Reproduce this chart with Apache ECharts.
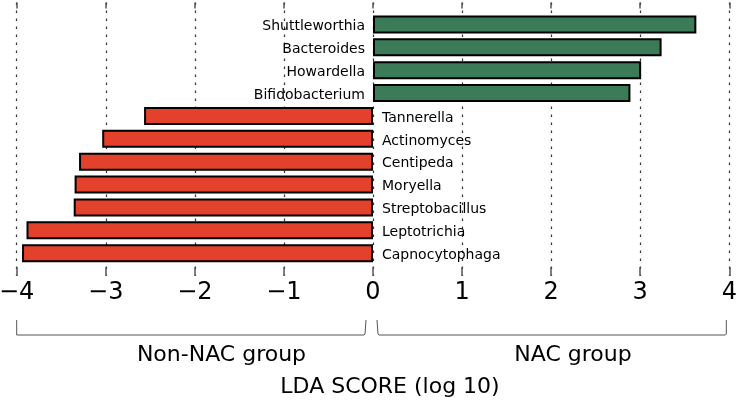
<!DOCTYPE html>
<html>
<head>
<meta charset="utf-8">
<script src="https://cdn.jsdelivr.net/npm/echarts@6/dist/echarts.min.js"></script>
<style>
html,body{margin:0;padding:0;background:#fff;}
#chart{width:738px;height:404px;}
</style>
</head>
<body>
<div id="chart"></div>
<script>
const genera = ['Shuttleworthia','Bacteroides','Howardella','Bifidobacterium','Tannerella','Actinomyces','Centipeda','Moryella','Streptobacillus','Leptotrichia','Capnocytophaga'];
const ldaScores = [3.63, 3.24, 3.01, 2.89, -2.57, -3.04, -3.30, -3.35, -3.36, -3.89, -3.94];
const groupNames = ['Non-NAC group', 'NAC group'];
const xTicks = [-4, -3, -2, -1, 0, 1, 2, 3, 4];
const axisTitle = 'LDA SCORE (log 10)';

const FONT = 'DejaVu Sans';
const nacColor = '#3b7b57';
const nonNacColor = '#e3412b';

const chart = echarts.init(document.getElementById('chart'), null, {renderer: 'canvas'});

const gridLeft = 16.7, gridRight = 8.7;

const nacData = ldaScores.map(v => v > 0 ? v : '-');
const nonNacData = ldaScores.map(v => v < 0 ? v : '-');

const option = {
  backgroundColor: '#fff',
  animation: false,
  grid: [
    {left: gridLeft, right: gridRight, top: 13.06, height: 251.6, containLabel: false, outerBoundsMode: 'none'},
    {left: gridLeft, right: gridRight, top: 2.5, height: 273.5, containLabel: false, outerBoundsMode: 'none'}
  ],
  xAxis: [
    {gridIndex: 0, type: 'value', min: xTicks[0], max: xTicks[xTicks.length-1], show: false},
    {gridIndex: 1, type: 'value', position: 'bottom', min: xTicks[0], max: xTicks[xTicks.length-1], interval: 1,
      axisLine: {show: false},
      axisTick: {show: true, inside: true, length: 9, lineStyle: {color: '#555', width: 1.5}},
      axisLabel: {show: true, margin: 5, fontFamily: FONT, fontSize: 24, color: '#000',
        formatter: v => (v < 0 ? '\u2212' + Math.abs(v) : String(v))},
      splitLine: {show: true, lineStyle: {color: '#333', width: 1.2, type: [2.5, 5.5]}},
      name: axisTitle, nameLocation: 'middle', nameGap: 100,
      nameTextStyle: {fontFamily: FONT, fontSize: 22, color: '#000', padding: [0, 0, 0, 34]}
    },
    {gridIndex: 1, type: 'value', position: 'top', min: xTicks[0], max: xTicks[xTicks.length-1], interval: 1,
      axisLine: {show: false},
      axisTick: {show: true, inside: true, length: 6, lineStyle: {color: '#555', width: 1.5}},
      axisLabel: {show: false},
      splitLine: {show: false}
    }
  ],
  yAxis: [
    {gridIndex: 0, type: 'category', data: genera, inverse: true, show: false},
    {gridIndex: 1, type: 'value', show: false, min: 0, max: 1}
  ],
  series: [
    {
      name: groupNames[1], type: 'bar', xAxisIndex: 0, yAxisIndex: 0, stack: 'lda',
      data: nacData, barWidth: 18,
      itemStyle: {color: nacColor, borderColor: '#000', borderWidth: 2},
      label: {show: true, position: 'left', distance: 8, formatter: '{b}',
        fontFamily: FONT, fontSize: 14, color: '#000', offset: [0, 2]}
    },
    {
      name: groupNames[0], type: 'bar', xAxisIndex: 0, yAxisIndex: 0, stack: 'lda',
      data: nonNacData, barWidth: 18,
      itemStyle: {color: nonNacColor, borderColor: '#000', borderWidth: 2},
      label: {show: true, position: 'right', distance: 9, formatter: '{b}',
        fontFamily: FONT, fontSize: 14, color: '#000', offset: [0, 2]}
    }
  ]
};
chart.setOption(option);

// group brackets and labels under the axis, positioned via the axis scale
const px = v => chart.convertToPixel({xAxisIndex: 1}, v);
const xL = px(-4), x0 = px(0), xR = px(4);
const yTop = 320, yBot = 335;
const bracketStyle = {stroke: '#555', lineWidth: 1, fill: null};
chart.setOption({
  graphic: [
    {type: 'polyline', shape: {points: [[xL, yTop], [xL, yBot], [x0 - 9, yBot], [x0 - 8, yBot - 1], [x0 - 7, yTop]]}, style: bracketStyle, silent: true},
    {type: 'polyline', shape: {points: [[x0 + 4, yTop], [x0 + 5, yBot - 1], [x0 + 6, yBot], [xR - 4, yBot], [xR - 3, yBot - 1], [xR - 3, yTop]]}, style: bracketStyle, silent: true},
    {type: 'text', x: 221.5, y: 355, style: {text: groupNames[0], fontFamily: FONT, fontSize: 22, fill: '#000', textAlign: 'center', textVerticalAlign: 'middle'}, silent: true},
    {type: 'text', x: 573, y: 355, style: {text: groupNames[1], fontFamily: FONT, fontSize: 22, fill: '#000', textAlign: 'center', textVerticalAlign: 'middle'}, silent: true}
  ]
});
</script>
</body>
</html>
